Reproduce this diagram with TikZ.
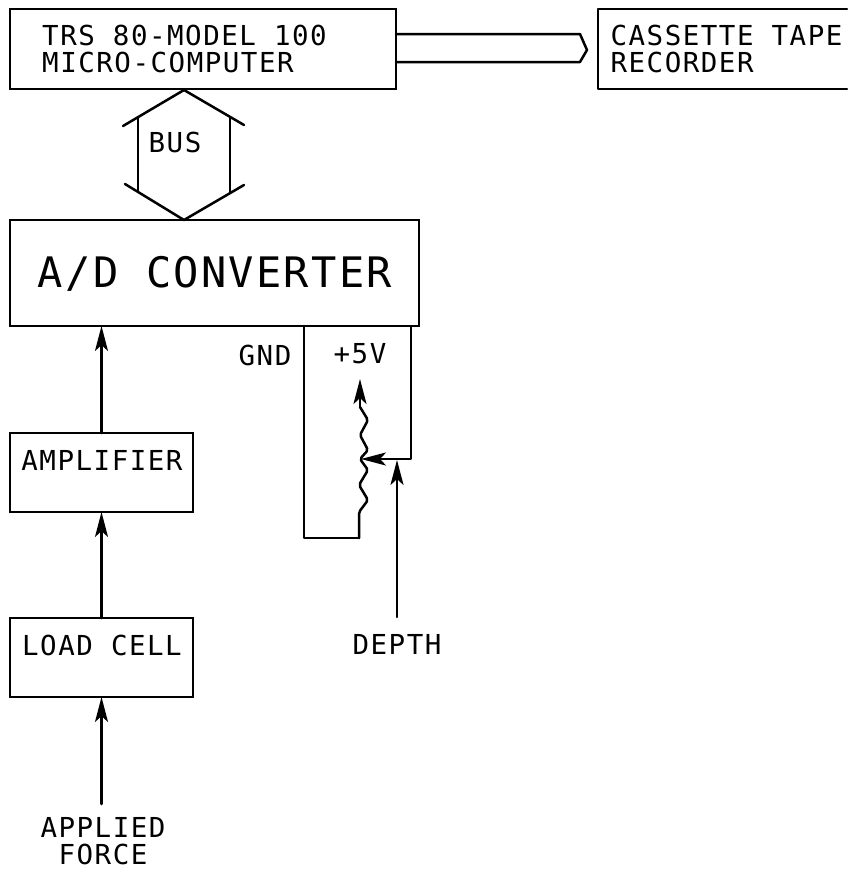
\documentclass[tikz,border=0pt]{standalone}
\usepackage{fontspec}
\setmainfont{DejaVu Sans Mono}[LetterSpace=5.5]
\usetikzlibrary{arrows.meta,calc}
\tikzset{
  x=1pt,y=-1pt,
  wire/.style={line width=2.5pt,line cap=round,line join=round},
  arrowline/.style={wire,-{Stealth[length=25pt,width=13pt,inset=6pt]}},
  boxnode/.style={draw,line width=2.5pt,inner sep=0pt,outer sep=0pt,minimum width=#1,anchor=north west},
  lab/.style={inner sep=0pt,font=\fontsize{27.5}{27}\selectfont,align=left},
  labc/.style={inner sep=0pt,font=\fontsize{27.5}{27}\selectfont,align=center},
  big/.style={inner sep=0pt,font=\fontsize{42}{45}\selectfont}
}
\begin{document}
\begin{tikzpicture}
\useasboundingbox (0,0) rectangle (847,871);
% boxes
\node[boxnode=386pt,minimum height=80pt] (mc) at (10,9) {};
\node[boxnode=409pt,minimum height=106pt] (ad) at (10,220) {};
\node[boxnode=183pt,minimum height=79pt] (amp) at (10,433) {};
\node[boxnode=183pt,minimum height=79pt] (lc) at (10,618) {};
\node[inner sep=0pt,outer sep=0pt,minimum width=249pt,minimum height=80pt,anchor=north west] (rec) at (598,9) {};
\draw[wire] (rec.north east) -- (rec.north west) -- (rec.south west) -- (rec.south east);
% texts
\node[lab] (t1) at (184.5,49) {TRS 80-MODEL 100\\MICRO-COMPUTER};
\node[lab] (t2) at (726.5,49) {CASSETTE TAPE\\RECORDER};
\node[big] (t3) at (215,274) {A/D CONVERTER};
\node[lab] (t4) at (175,142) {BUS};
\node[lab] (t5) at (265,355) {GND};
\node[lab] (t6) at (360,354) {+5V};
\node[lab] (t7) at (102,460) {AMPLIFIER};
\node[lab] (t8) at (102,645) {LOAD CELL};
\node[lab] (t9) at (397,644) {DEPTH};
\node[labc] (t10) at (103,841) {APPLIED\\FORCE};
% tape link
\coordinate (tapeA) at (mc.east |- 0,34);
\coordinate (tapeB) at (mc.east |- 0,62);
\coordinate (tip) at (587,50);
\draw[wire] (tapeA) -- (580,34) -- (tip) -- (580,62) -- (tapeB);
% bus
\coordinate (apexT) at (184,90);
\coordinate (apexB) at (184,220);
\draw[wire] (123,126) -- (apexT) -- (244,125);
\draw[wire] (125,184) -- (apexB) -- (244,185);
\draw[wire] (138,117) -- (138,192);
\draw[wire] (230,118) -- (230,193);
% arrows
\draw[arrowline] (amp.north) -- (amp.north |- ad.south);
\draw[arrowline] (lc.north) -- (amp.south);
\coordinate (forceEnd) at (lc.south |- 0,804);
\draw[arrowline] (forceEnd) -- (lc.south);
% potentiometer
\coordinate (gnd) at (304,326);
\coordinate (five) at (411,326);
\coordinate (wiper) at (361,459);
\coordinate (depthEnd) at (397,617);
\draw[wire] (gnd) -- (304,538) -- (359,538);
\draw[wire,rounded corners=2pt] (359,538) -- (359,512)
  -- (368,500) -- (359,485) -- (368,470) -- (360,459) -- (368,450) -- (360,435) -- (368,420) -- (360,407);
\draw[arrowline] (360,407) -- (360,379);
\draw[arrowline] (five) -- (411,459) -- (wiper);
\draw[arrowline] (depthEnd) -- (397,460);
\end{tikzpicture}
\end{document}
